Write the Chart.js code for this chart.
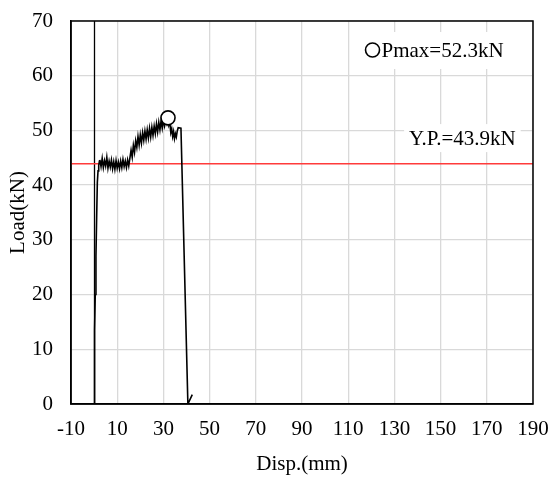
<!DOCTYPE html>
<html>
<head>
<meta charset="utf-8">
<script src="https://cdn.jsdelivr.net/npm/chart.js@4.4.1/dist/chart.umd.min.js"></script>
<style>
  html, body { margin: 0; padding: 0; background: #fff; }
  #wrap { width: 548px; height: 477px; }
</style>
</head>
<body>
<div id="wrap"><canvas id="loadChart" width="548" height="477"></canvas></div>
<script>
// Load-displacement record (mm, kN)
const disp = [
    0, 0.1, 0.3, 0.5, 0.8, 1.1, 1.4, 1.7, 2.0, 2.3,
    2.5, 3, 3.5, 4, 4.5, 5, 5.5, 6, 6.5, 7, 7.5, 8, 8.5, 9, 9.5,
    10, 10.5, 11, 11.5, 12, 12.5, 13, 13.5, 14, 14.5, 15, 15.5,
    16, 16.5, 17, 17.5, 18, 18.5, 19, 19.5, 20, 20.5, 21, 21.5, 22, 22.5,
    23, 23.5, 24, 24.5, 25, 25.5, 26, 26.5, 27, 27.5, 28, 28.5, 29, 29.5,
    30, 30.5, 31, 31.5,
    32,
    32.4, 32.8, 33.2, 33.6, 34.0, 34.4, 34.8, 35.2, 35.6, 36.0, 36.4, 37.6,
    40.6, 42.5
];
const load = [
    0, 6.2, 13.5, 20, 27, 34, 40.5, 42.6, 43.6, 44.4,
    44.6, 43.4, 44.9, 43.2, 44.5, 43.5, 45.1, 43.1, 44.4, 43.3, 44.6, 43.0, 44.3, 42.9, 44.5,
    43.1, 44.2, 43.0, 44.4, 43.2, 44.7, 43.4, 44.4, 43.2, 44.6, 43.5, 45.0,
    46.4, 45.1, 47.3, 46.0, 48.1, 46.9, 48.9, 47.3, 49.2, 47.7, 49.6, 48.2, 49.9, 48.4,
    50.1, 48.6, 50.4, 48.8, 50.6, 49.1, 50.8, 49.4, 51.2, 49.7, 51.5, 50.1, 51.8, 50.4,
    51.9, 50.8, 51.9, 51.2,
    52.3,
    51.0, 51.4, 49.6, 50.3, 48.9, 49.8, 48.5, 49.4, 48.8, 49.9, 50.5, 50.4,
    0, 1.7
];

const pmaxDisp = 32;
const pmaxLoad = 52.3;
const ypLoad = 43.9;

const xTicks = [-10, 10, 30, 50, 70, 90, 110, 130, 150, 170, 190];
const xMin = -10, xMax = 190;
const yMin = 0, yMax = 70;

const FONT = { family: '"Liberation Serif", "Times New Roman", serif', size: 21 };

// plot frame, x=0 axis line and the two text boxes
const framePlugin = {
    id: 'frame',
    beforeDatasetsDraw(chart) {
        const { ctx, scales: { x, y } } = chart;
        ctx.save();
        ctx.strokeStyle = '#000';
        ctx.lineWidth = 1.3;
        const x0 = Math.round(x.getPixelForValue(0)) + 0.5;
        ctx.beginPath();
        ctx.moveTo(x0, y.getPixelForValue(yMin));
        ctx.lineTo(x0, y.getPixelForValue(yMax));
        ctx.stroke();
        ctx.restore();
    },
    afterDraw(chart) {
        const { ctx, chartArea: a, scales: { x, y } } = chart;
        ctx.save();
        ctx.strokeStyle = '#000';
        ctx.lineWidth = 1.5;
        ctx.strokeRect(a.left, a.top, a.right - a.left, a.bottom - a.top);

        ctx.font = FONT.size + 'px ' + FONT.family;
        ctx.textBaseline = 'middle';
        ctx.fillStyle = '#000';

        // Pmax label
        const py = y.getPixelForValue(64.7);
        const px = x.getPixelForValue(117.5);
        const ptxt = 'Pmax=' + pmaxLoad.toFixed(1) + 'kN';
        const pw = ctx.measureText(ptxt).width;
        ctx.fillStyle = '#fff';
        ctx.fillRect(px - 4, py - 18, pw + 26, 37);
        ctx.beginPath();
        ctx.arc(px + 7, py, 7, 0, Math.PI * 2);
        ctx.lineWidth = 1.6;
        ctx.stroke();
        ctx.fillStyle = '#000';
        ctx.textAlign = 'left';
        ctx.fillText(ptxt, px + 16, py + 1);

        // yield load label
        const yy = y.getPixelForValue(48.6);
        const ytxt = 'Y.P.=' + ypLoad.toFixed(1) + 'kN';
        const yw = ctx.measureText(ytxt).width;
        const yx = x.getPixelForValue(182.5);
        ctx.fillStyle = '#fff';
        ctx.fillRect(yx - yw - 5, yy - 14, yw + 10, 28);
        ctx.fillStyle = '#000';
        ctx.textAlign = 'right';
        ctx.fillText(ytxt, yx, yy + 1);
        ctx.restore();
    }
};

new Chart(document.getElementById('loadChart'), {
    type: 'scatter',
    data: {
        datasets: [
            {
                label: 'Pmax',
                data: [{ x: pmaxDisp, y: pmaxLoad }],
                pointRadius: 7,
                pointBackgroundColor: '#fff',
                pointBorderColor: '#000',
                pointBorderWidth: 1.6,
                showLine: false
            },
            {
                label: 'Load',
                data: disp.map((d, i) => ({ x: d, y: load[i] })),
                showLine: true,
                borderColor: '#000',
                borderWidth: 1.6,
                pointRadius: 0,
                tension: 0
            },
            {
                label: 'Y.P.',
                data: [{ x: xMin, y: ypLoad }, { x: xMax, y: ypLoad }],
                showLine: true,
                borderColor: '#ff3b3b',
                borderWidth: 1.6,
                pointRadius: 0
            }
        ]
    },
    options: {
        responsive: false,
        animation: false,
        devicePixelRatio: 1,
        layout: { padding: { top: 21, right: 15, left: 0, bottom: 0 } },
        plugins: { legend: { display: false }, tooltip: { enabled: false } },
        scales: {
            x: {
                type: 'linear',
                min: xMin,
                max: xMax,
                afterBuildTicks: s => { s.ticks = xTicks.map(v => ({ value: v })); },
                afterFit: s => { s.height = 73; s.paddingLeft = 0; s.paddingRight = 0; },
                grid: { color: '#d9d9d9', lineWidth: 1.3, drawTicks: false },
                border: { color: '#000', width: 1.5 },
                ticks: { font: FONT, color: '#000', padding: 13, maxRotation: 0, autoSkip: false },
                title: { display: true, text: 'Disp.(mm)', font: FONT, color: '#000', padding: { top: 0, bottom: 0 } }
            },
            y: {
                min: yMin,
                max: yMax,
                afterFit: s => { s.width = 71; s.paddingTop = 0; s.paddingBottom = 0; },
                grid: { color: '#d9d9d9', lineWidth: 1.3, drawTicks: false },
                border: { color: '#000', width: 1.5 },
                ticks: { stepSize: 10, font: FONT, color: '#000', padding: 18 },
                title: { display: true, text: 'Load(kN)', font: FONT, color: '#000', padding: { top: 6, bottom: 0 } }
            }
        }
    },
    plugins: [framePlugin]
});
</script>
</body>
</html>
